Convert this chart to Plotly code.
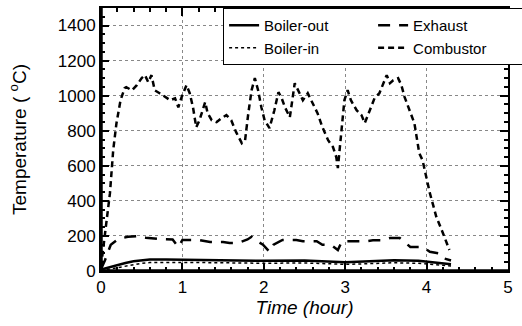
import plotly.graph_objects as go

# ---- data ----
t_boiler = [0, 0.1, 0.2, 0.3, 0.4, 0.5, 0.6, 0.8, 1.0, 1.5, 2.0, 2.5, 2.9, 3.0, 3.3, 3.6, 3.9, 4.1, 4.3]
boiler_out = [8, 22, 35, 46, 55, 61, 65, 66, 64, 62, 58, 60, 52, 50, 55, 62, 58, 48, 38]
boiler_in = [2, 10, 20, 30, 38, 44, 48, 50, 49, 47, 44, 46, 40, 38, 42, 47, 44, 36, 28]

t_exhaust = [0, 0.05, 0.12, 0.21, 0.33, 0.45, 0.55, 0.72, 0.88, 0.95, 1.0, 1.2, 1.34, 1.5, 1.58, 1.68,
             1.8, 1.85, 1.9, 1.99, 2.07, 2.12, 2.23, 2.4, 2.48, 2.65, 2.72, 2.83, 2.91, 2.96, 3.09,
             3.26, 3.34, 3.46, 3.55, 3.67, 3.8, 3.95, 4.04, 4.16, 4.2, 4.3]
exhaust = [10, 63, 150, 182, 195, 199, 190, 182, 180, 137, 177, 177, 165, 165, 160, 160,
           180, 195, 175, 150, 110, 150, 177, 177, 170, 170, 150, 148, 120, 170, 170,
           170, 175, 175, 188, 188, 137, 137, 110, 100, 74, 60]

t_comb = [0, 0.05, 0.11, 0.15, 0.19, 0.24, 0.29, 0.31, 0.38, 0.44, 0.50, 0.54, 0.58, 0.62, 0.66,
          0.72, 0.79, 0.85, 0.91, 0.95, 0.99, 1.05, 1.09, 1.13, 1.17, 1.21, 1.28, 1.31, 1.36,
          1.42, 1.48, 1.54, 1.60, 1.66, 1.73, 1.77, 1.81, 1.85, 1.89, 1.93, 1.97, 2.01, 2.07,
          2.13, 2.18, 2.22, 2.26, 2.32, 2.38, 2.42, 2.48, 2.54, 2.60, 2.66, 2.72, 2.79, 2.85,
          2.89, 2.91, 2.95, 2.99, 3.03, 3.07, 3.14, 3.20, 3.24, 3.30, 3.36, 3.42, 3.46, 3.51,
          3.55, 3.59, 3.65, 3.69, 3.73, 3.85, 3.91, 3.95, 4.04, 4.12, 4.20, 4.28]
combustor = [25, 216, 444, 690, 843, 974, 1043, 1048, 1031, 1060, 1100, 1117, 1077, 1117, 1031,
             1014, 991, 974, 985, 934, 991, 1060, 1014, 934, 820, 860, 963, 900, 860,
             849, 872, 889, 860, 792, 729, 746, 900, 1031, 1100, 1031, 934, 860, 815,
             917, 1020, 985, 934, 877, 1071, 1031, 974, 1014, 957, 900, 820, 746, 707,
             650, 587, 786, 974, 1031, 974, 917, 889, 843, 917, 985, 1014, 1060, 1117,
             1071, 1088, 1100, 1060, 992, 843, 672, 632, 444, 308, 217, 120]

x_ticks = [0, 1, 2, 3, 4, 5]
y_ticks = [0, 200, 400, 600, 800, 1000, 1200, 1400]

FONT = "Liberation Sans, Arial, sans-serif"

fig = go.Figure()
fig.add_trace(go.Scatter(x=t_boiler, y=boiler_out, name="Boiler-out", mode="lines",
                         line=dict(color="black", width=2.5)))
fig.add_trace(go.Scatter(x=t_exhaust, y=exhaust, name="Exhaust", mode="lines",
                         line=dict(color="black", width=2.5, dash="12px,9px")))
fig.add_trace(go.Scatter(x=t_boiler, y=boiler_in, name="Boiler-in", mode="lines",
                         line=dict(color="black", width=1.5, dash="dot")))
fig.add_trace(go.Scatter(x=t_comb, y=combustor, name="Combustor", mode="lines",
                         line=dict(color="black", width=2.5, dash="6px,4px")))

fig.update_layout(
    width=522, height=326,
    margin=dict(l=101, r=14, t=8, b=55, autoexpand=False),
    paper_bgcolor="white", plot_bgcolor="white",
    font=dict(family=FONT, color="black", size=16),
    legend=dict(
        orientation="h", x=0.30, xanchor="left", y=1, yanchor="top",
        entrywidth=104, entrywidthmode="pixels",
        bordercolor="black", borderwidth=1, bgcolor="white",
        font=dict(size=15), tracegroupgap=0,
    ),
    xaxis=dict(
        range=[0, 5], tickvals=x_ticks, ticktext=[str(v) for v in x_ticks],
        ticks="inside", ticklen=8, tickwidth=1.5, tickcolor="black",
        minor=dict(dtick=0.2, ticks="inside", ticklen=4, tickcolor="black", showgrid=False),
        showline=True, linecolor="black", linewidth=2, mirror="ticks",
        showgrid=True, gridcolor="#888", griddash="dot", gridwidth=1,
        zeroline=False, tickfont=dict(size=17), automargin=False,
        title=dict(text="<i>Time (hour)</i>", font=dict(size=19), standoff=4),
    ),
    yaxis=dict(
        range=[0, 1500], tickvals=y_ticks, ticktext=[str(v) for v in y_ticks],
        ticks="inside", ticklen=8, tickwidth=1.5, tickcolor="black",
        minor=dict(dtick=50, ticks="inside", ticklen=4, tickcolor="black", showgrid=False),
        showline=True, linecolor="black", linewidth=2, mirror="ticks",
        showgrid=True, gridcolor="#888", griddash="dot", gridwidth=1,
        zeroline=False, tickfont=dict(size=17), automargin=False,
        title=dict(text="Temperature ( <sup>o</sup>C)", font=dict(size=19), standoff=26),
    ),
)

# thicker left and bottom frame
fig.add_shape(type="line", xref="paper", yref="paper", x0=0, x1=0, y0=0, y1=1,
              line=dict(color="black", width=3.5), layer="above")
fig.add_shape(type="line", xref="paper", yref="paper", x0=0, x1=1, y0=0, y1=0,
              line=dict(color="black", width=3.5), layer="above")

fig.write_html("out.html", config={"displayModeBar": False},
               post_script="document.body.style.margin='0';document.body.style.overflow='hidden';")
